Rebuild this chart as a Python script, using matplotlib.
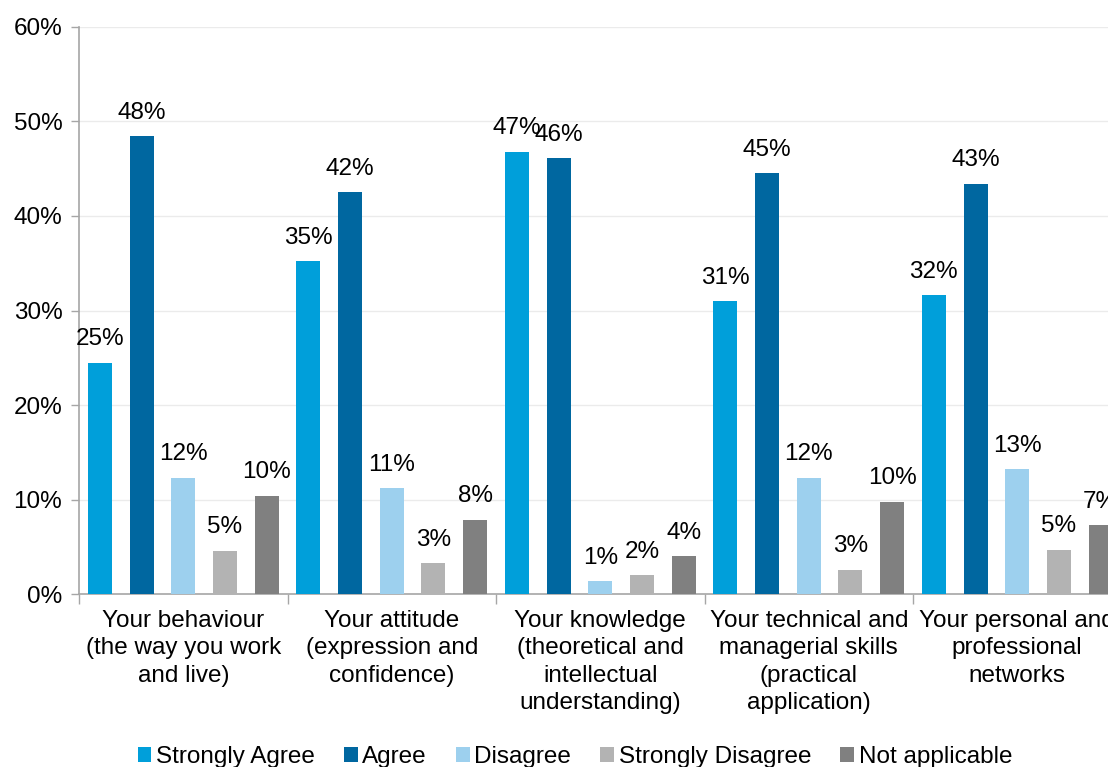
import matplotlib
matplotlib.use("Agg")
import matplotlib.pyplot as plt
from matplotlib.patches import Patch
import numpy as np

plt.rcParams['font.family'] = ['Liberation Sans', 'DejaVu Sans']

categories = ["Your behaviour\n(the way you work\nand live)",
              "Your attitude\n(expression and\nconfidence)",
              "Your knowledge\n(theoretical and\nintellectual\nunderstanding)",
              "Your technical and\nmanagerial skills\n(practical\napplication)",
              "Your personal and\nprofessional\nnetworks"]
series_names = ["Strongly Agree", "Agree", "Disagree", "Strongly Disagree", "Not applicable"]
strongly_agree = [24.5, 35.2, 46.8, 31.0, 31.6]
agree = [48.4, 42.5, 46.1, 44.5, 43.4]
disagree = [12.3, 11.2, 1.4, 12.3, 13.2]
strongly_disagree = [4.6, 3.3, 2.0, 2.6, 4.7]
not_applicable = [10.4, 7.9, 4.0, 9.8, 7.3]
labels = [[25, 48, 12, 5, 10], [35, 42, 11, 3, 8], [47, 46, 1, 2, 4], [31, 45, 12, 3, 10], [32, 43, 13, 5, 7]]
yticks = [0, 10, 20, 30, 40, 50, 60]

colors = ["#009FDA", "#0067A0", "#9DD0EE", "#B3B3B3", "#808080"]
data = [strongly_agree, agree, disagree, strongly_disagree, not_applicable]

W, H = 1108, 767
fig = plt.figure(figsize=(W / 100, H / 100), dpi=100)
ax = fig.add_axes([79 / W, (H - 594.3) / H, 1042.5 / W, (594.3 - 26.7) / H])

fs = 17.5
x = np.arange(len(categories))
for i, (vals, c) in enumerate(zip(data, colors)):
    pos = x + 0.1 + 0.2 * i
    bars = ax.bar(pos, vals, width=0.115, color=c, zorder=3)
    for j, b in enumerate(bars):
        ax.annotate(f"{labels[j][i]}%", (b.get_x() + b.get_width() / 2, b.get_height()),
                    xytext=(0, 9), textcoords="offset points", ha="center", va="bottom",
                    fontsize=fs, color="#000000", zorder=4)

ax.set_xlim(0, 5)
ax.set_ylim(0, 60)
ax.set_yticks(yticks)
ax.set_yticklabels([f"{v}%" for v in yticks], fontsize=fs)
ax.yaxis.grid(True, color="#EBEBEB", linewidth=1, zorder=0)
ax.set_xticks(x + 0.5)
ax.set_xticklabels(categories, fontsize=fs, linespacing=1.33)
ax.tick_params(axis='x', which='major', length=0, pad=11)
ax.set_xticks(np.arange(0, 6), minor=True)
ax.tick_params(axis='x', which='minor', length=7, color="#A6A6A6", width=1)
ax.tick_params(axis='y', length=6, color="#A6A6A6", width=1, pad=6)
for s in ["top", "right"]:
    ax.spines[s].set_visible(False)
for s in ["left", "bottom"]:
    ax.spines[s].set_color("#A6A6A6")
    ax.spines[s].set_linewidth(1.2)

handles = [Patch(facecolor=c, edgecolor='none') for c in colors]
fig.legend(handles, series_names, loc="center", bbox_to_anchor=(575 / W, (H - 757) / H),
           ncol=5, frameon=False, fontsize=fs, handlelength=0.55, handleheight=0.55,
           handletextpad=0.2, columnspacing=1.2)

fig.savefig("out.png", dpi=100)
